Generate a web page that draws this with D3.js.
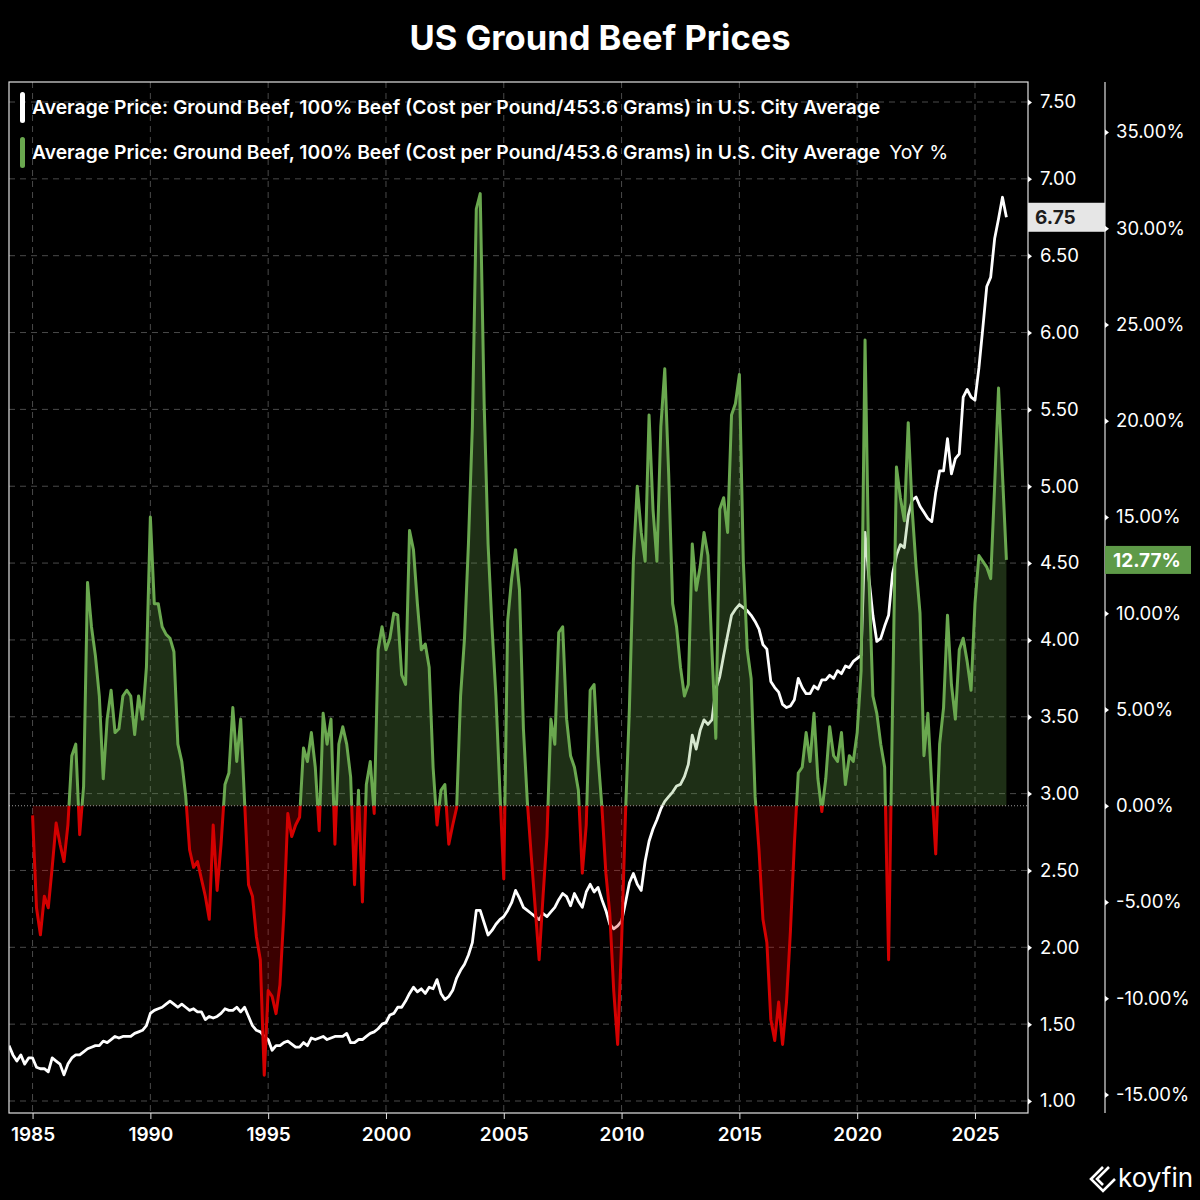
<!DOCTYPE html>
<html lang="en">
<head>
<meta charset="utf-8">
<script src="https://cdn.jsdelivr.net/npm/d3@7"></script>
<style>
  body { margin: 0; background: #000; }
  text { font-family: Inter, Roboto, sans-serif; }
</style>
</head>
<body>
<script>
var width = 1200, height = 1200;
var plotLeft = 9, plotRight = 1028, plotTop = 82, plotBottom = 1113;
var axis2 = 1105;

// tick labels
var yearTicks = [1985, 1990, 1995, 2000, 2005, 2010, 2015, 2020, 2025];
var priceTicks = [1.0, 1.5, 2.0, 2.5, 3.0, 3.5, 4.0, 4.5, 5.0, 5.5, 6.0, 6.5, 7.0, 7.5];
var yoyTicks = [-15, -10, -5, 0, 5, 10, 15, 20, 25, 30, 35];

// series, one value every two months
var priceStart = 1984, yoyStart = 1985, step = 2 / 12;

var price = [
  1.36, 1.30, 1.26, 1.30, 1.24, 1.28,  // 1984
  1.28, 1.22, 1.21, 1.21, 1.19, 1.28,
  1.26, 1.24, 1.17, 1.24, 1.28, 1.30,
  1.30, 1.32, 1.34, 1.35, 1.36, 1.36,
  1.39, 1.38, 1.40, 1.42, 1.41, 1.42,
  1.42, 1.42, 1.44, 1.45, 1.46, 1.49,
  1.57, 1.59, 1.60, 1.61, 1.63, 1.65,  // 1990
  1.63, 1.61, 1.63, 1.61, 1.59, 1.60,
  1.58, 1.58, 1.53, 1.55, 1.54, 1.55,
  1.57, 1.60, 1.59, 1.59, 1.61, 1.58,
  1.61, 1.55, 1.49, 1.46, 1.45, 1.42,
  1.40, 1.33, 1.36, 1.36, 1.38, 1.39,  // 1995
  1.37, 1.35, 1.35, 1.38, 1.36, 1.41,
  1.40, 1.41, 1.42, 1.40, 1.41, 1.42,
  1.42, 1.42, 1.44, 1.38, 1.38, 1.40,
  1.40, 1.42, 1.44, 1.45, 1.47, 1.50,
  1.51, 1.56, 1.57, 1.61, 1.61, 1.65,  // 2000
  1.70, 1.74, 1.71, 1.73, 1.70, 1.74,
  1.73, 1.79, 1.70, 1.66, 1.68, 1.72,
  1.80, 1.85, 1.89, 1.95, 2.03, 2.24,
  2.24, 2.16, 2.08, 2.11, 2.15, 2.18,
  2.20, 2.24, 2.29, 2.37, 2.32, 2.26,  // 2005
  2.24, 2.22, 2.20, 2.18, 2.22, 2.20,
  2.23, 2.26, 2.31, 2.35, 2.33, 2.27,
  2.35, 2.30, 2.26, 2.36, 2.41, 2.36,
  2.39, 2.31, 2.24, 2.15, 2.12, 2.14,
  2.17, 2.29, 2.42, 2.48, 2.41, 2.37,  // 2010
  2.56, 2.69, 2.77, 2.83, 2.90, 2.95,
  2.98, 3.01, 3.05, 3.06, 3.11, 3.19,
  3.38, 3.29, 3.41, 3.48, 3.45, 3.48,
  3.68, 3.76, 3.90, 4.03, 4.16, 4.20,
  4.23, 4.21, 4.19, 4.16, 4.12, 4.07,  // 2015
  3.97, 3.94, 3.73, 3.69, 3.66, 3.58,
  3.56, 3.57, 3.61, 3.75, 3.69, 3.65,
  3.65, 3.70, 3.68, 3.74, 3.74, 3.77,
  3.75, 3.80, 3.78, 3.83, 3.82, 3.86,
  3.88, 3.90, 4.70, 4.40, 4.16, 3.99,  // 2020
  4.01, 4.09, 4.16, 4.43, 4.55, 4.62,
  4.60, 4.81, 4.91, 4.93, 4.87, 4.83,
  4.79, 4.77, 4.96, 5.10, 5.10, 5.31,
  5.08, 5.18, 5.21, 5.58, 5.63, 5.58,
  5.56, 5.77, 6.03, 6.30, 6.36, 6.61,  // 2025
  6.74, 6.88, 6.75
];

var yoy = [
  -0.5, -5.3, -6.7, -4.7, -5.3, -3.2,  // 1985
  -0.9, -2.0, -2.9, -1.0, 2.6, 3.2,
  -1.5, 1.0, 11.6, 9.3, 7.8, 5.7,
  1.4, 4.5, 6.0, 3.8, 4.0, 5.7,
  6.0, 5.7, 3.7, 5.7, 4.5, 7.2,
  15.0, 10.5, 10.5, 9.3, 8.9, 8.7,  // 1990
  8.0, 3.2, 2.3, 0.5, -2.3, -3.2,
  -2.9, -3.8, -4.7, -5.9, -1.0, -4.4,
  -2.0, 1.1, 1.7, 5.1, 2.3, 4.5,
  0.2, -4.1, -4.7, -6.8, -8.0, -14.0,
  -9.6, -9.9, -10.8, -9.3, -5.6, -0.4,  // 1995
  -1.6, -1.0, -0.6, 3.0, 2.3, 3.8,
  2.0, -1.3, 4.8, 3.2, 4.5, -2.0,
  3.2, 4.1, 3.2, 1.5, -4.1, 0.8,
  -5.0, 1.1, 2.3, -0.4, 8.1, 9.3,
  8.1, 8.7, 10.0, 9.9, 6.8, 6.3,  // 2000
  14.3, 13.3, 10.5, 8.1, 8.4, 7.2,
  2.0, -1.0, 0.8, 1.1, -2.0, -1.0,
  -0.1, 5.7, 8.7, 13.6, 19.7, 31.0,
  31.8, 20.9, 13.6, 9.3, 5.7, 0.8,
  -3.8, 9.6, 11.8, 13.3, 11.2, 4.0,  // 2005
  0.2, -2.6, -5.3, -8.0, -4.7, -1.6,
  4.5, 3.2, 9.0, 9.3, 4.5, 2.6,
  2.0, 0.8, -3.5, -1.0, 6.0, 6.3,
  2.6, -0.1, -3.5, -5.6, -9.6, -12.4,
  -7.1, -0.4, 5.1, 12.7, 16.6, 14.2,  // 2010
  12.7, 20.3, 15.4, 12.7, 19.7, 22.7,
  17.2, 10.5, 9.3, 7.2, 5.7, 6.3,
  13.6, 11.2, 12.4, 14.2, 13.0, 8.1,
  3.5, 15.4, 16.0, 14.2, 20.3, 20.9,
  22.4, 12.7, 8.1, 6.6, 0.5, -2.3,  // 2015
  -5.9, -7.1, -11.1, -12.2, -10.2, -12.4,
  -10.2, -6.5, -2.0, 1.7, 2.0, 3.8,
  2.3, 4.8, 1.4, -0.3, 1.4, 4.1,
  2.6, 2.3, 3.8, 1.1, 2.6, 2.3,
  3.8, 7.0, 24.2, 11.8, 5.7, 4.8,  // 2020
  3.2, 2.0, -8.0, 5.1, 17.6, 16.0,
  14.8, 19.9, 15.4, 12.4, 10.0, 2.6,
  4.8, 1.0, -2.5, 3.2, 5.1, 9.9,
  6.3, 4.5, 8.1, 8.7, 7.5, 6.0,
  10.5, 13.0, 12.7, 12.4, 11.8, 16.6,  // 2025
  21.7, 17.2, 12.77
];

var priceName = "Average Price: Ground Beef, 100% Beef (Cost per Pound/453.6 Grams) in U.S. City Average";

var priceData = price.map(function(v, i) { return { t: priceStart + i * step, v: v }; });
var yoyData = yoy.map(function(v, i) { return { t: yoyStart + i * step, v: v }; });
var lastPrice = price[price.length - 1];
var lastYoy = yoy[yoy.length - 1];

var green = "#6aa84f", red = "#d40000";
var fix2 = function(d) { return d.toFixed(2); };  // plain hyphen for negatives

var svg = d3.select("body").append("svg")
    .attr("width", width)
    .attr("height", height);

svg.append("rect").attr("width", width).attr("height", height).attr("fill", "#000");

var x = d3.scaleLinear().domain([1984, 2027.25]).range([plotLeft, plotRight]);
var yPrice = d3.scaleLinear().domain([1, 7.5]).range([1101, 102]);
var yYoy = d3.scaleLinear().domain([-15, 35]).range([1094.5, 132]);
var y0 = yYoy(0);

// title
svg.append("text")
    .attr("x", width / 2).attr("y", 50)
    .attr("text-anchor", "middle")
    .attr("fill", "#fff")
    .attr("font-size", 34.5)
    .attr("font-weight", 700)
    .text("US Ground Beef Prices");

// clip paths
var defs = svg.append("defs");
defs.append("clipPath").attr("id", "plot")
  .append("rect").attr("x", plotLeft).attr("y", plotTop).attr("width", plotRight - plotLeft).attr("height", plotBottom - plotTop);
defs.append("clipPath").attr("id", "above")
  .append("rect").attr("x", plotLeft).attr("y", plotTop).attr("width", plotRight - plotLeft).attr("height", y0 - plotTop);
defs.append("clipPath").attr("id", "below")
  .append("rect").attr("x", plotLeft).attr("y", y0).attr("width", plotRight - plotLeft).attr("height", plotBottom - y0);

// grid
var grid = svg.append("g").attr("stroke", "#4a4a4a").attr("stroke-width", 1).attr("stroke-dasharray", "6,5");
grid.selectAll(".gx").data(yearTicks).enter().append("line")
    .attr("x1", function(d) { return x(d); }).attr("x2", function(d) { return x(d); })
    .attr("y1", plotTop).attr("y2", plotBottom);
grid.selectAll(".gy").data(priceTicks).enter().append("line")
    .attr("x1", plotLeft).attr("x2", plotRight)
    .attr("y1", function(d) { return yPrice(d); }).attr("y2", function(d) { return yPrice(d); });

var plot = svg.append("g").attr("clip-path", "url(#plot)");

// price line
plot.append("path")
    .datum(priceData)
    .attr("fill", "none")
    .attr("stroke", "#fff")
    .attr("stroke-width", 2.8)
    .attr("stroke-linejoin", "round")
    .attr("d", d3.line().x(function(d) { return x(d.t); }).y(function(d) { return yPrice(d.v); }));

// yoy areas + lines, split at zero
var area = d3.area().x(function(d) { return x(d.t); }).y0(y0).y1(function(d) { return yYoy(d.v); });
var line = d3.line().x(function(d) { return x(d.t); }).y(function(d) { return yYoy(d.v); });

plot.append("path").datum(yoyData).attr("clip-path", "url(#above)")
    .attr("fill", green).attr("fill-opacity", 0.28).attr("d", area);
plot.append("path").datum(yoyData).attr("clip-path", "url(#below)")
    .attr("fill", red).attr("fill-opacity", 0.28).attr("d", area);
plot.append("path").datum(yoyData).attr("clip-path", "url(#above)")
    .attr("fill", "none").attr("stroke", green).attr("stroke-width", 3).attr("stroke-linejoin", "round").attr("d", line);
plot.append("path").datum(yoyData).attr("clip-path", "url(#below)")
    .attr("fill", "none").attr("stroke", red).attr("stroke-width", 3).attr("stroke-linejoin", "round").attr("d", line);

// zero line
svg.append("line")
    .attr("x1", plotLeft).attr("x2", plotRight).attr("y1", y0).attr("y2", y0)
    .attr("stroke", "#999").attr("stroke-width", 1).attr("stroke-dasharray", "1,2");

// frame
svg.append("rect")
    .attr("x", plotLeft).attr("y", plotTop).attr("width", plotRight - plotLeft).attr("height", plotBottom - plotTop)
    .attr("fill", "none").attr("stroke", "#e0e0e0").attr("stroke-width", 1.2);
svg.append("line")
    .attr("x1", axis2).attr("x2", axis2).attr("y1", plotTop).attr("y2", plotBottom)
    .attr("stroke", "#e0e0e0").attr("stroke-width", 1.2);

// x axis
var gx = svg.append("g").attr("transform", "translate(0," + plotBottom + ")")
    .call(d3.axisBottom(x).tickValues(yearTicks).tickFormat(d3.format("d")).tickSize(6).tickPadding(9));
gx.select(".domain").remove();
gx.selectAll("line").attr("stroke", "#e0e0e0");
gx.selectAll("text").attr("fill", "#fff").attr("font-size", 19).attr("font-weight", 600)
    .attr("font-family", "Inter, sans-serif");

// price axis
var gp = svg.append("g").attr("transform", "translate(" + plotRight + ",0)")
    .call(d3.axisRight(yPrice).tickValues(priceTicks).tickFormat(fix2).tickSize(0).tickPadding(12));
gp.select(".domain").remove();
gp.selectAll("text").attr("fill", "#fff").attr("font-size", 18.5).attr("font-family", "Inter, sans-serif");
gp.selectAll(".tick").append("path").attr("d", "M0,-3L4,0L0,3Z").attr("fill", "#fff");

// yoy axis
var gy = svg.append("g").attr("transform", "translate(" + axis2 + ",0)")
    .call(d3.axisRight(yYoy).tickValues(yoyTicks).tickFormat(function(d) { return fix2(d) + "%"; }).tickSize(0).tickPadding(11));
gy.select(".domain").remove();
gy.selectAll("text").attr("fill", "#fff").attr("font-size", 18.5).attr("font-family", "Inter, sans-serif");
gy.selectAll(".tick").append("path").attr("d", "M0,-3L4,0L0,3Z").attr("fill", "#fff");

// last value badges
var bp = yPrice(lastPrice);
svg.append("rect").attr("x", plotRight).attr("y", bp - 14.5).attr("width", axis2 - plotRight).attr("height", 29).attr("fill", "#e6e6e6");
svg.append("text").attr("x", plotRight + 7).attr("y", bp).attr("dy", "0.35em")
    .attr("fill", "#1c1c1c").attr("font-size", 19).attr("font-weight", 700).text(fix2(lastPrice));

var by = yYoy(lastYoy);
svg.append("rect").attr("x", axis2).attr("y", by - 14).attr("width", 86).attr("height", 28).attr("fill", "#5e9a48");
svg.append("text").attr("x", axis2 + 8).attr("y", by).attr("dy", "0.35em")
    .attr("fill", "#fff").attr("font-size", 19).attr("font-weight", 700).text(fix2(lastYoy) + "%");

// legend
svg.append("rect").attr("x", 20).attr("y", 92).attr("width", 5).attr("height", 31).attr("rx", 2.5).attr("fill", "#fff");
svg.append("text").attr("x", 32).attr("y", 114).attr("fill", "#fff").attr("font-size", 19.3).attr("font-weight", 600)
    .text(priceName);
svg.append("rect").attr("x", 20).attr("y", 137).attr("width", 5).attr("height", 31).attr("rx", 2.5).attr("fill", green);
var lg = svg.append("text").attr("x", 32).attr("y", 159).attr("fill", "#fff").attr("font-size", 19.3);
lg.append("tspan").attr("font-weight", 600).text(priceName);
lg.append("tspan").attr("dx", 9).attr("font-weight", 400).text("YoY %");

// koyfin mark
var logo = svg.append("g").attr("fill", "none").attr("stroke", "#fff").attr("stroke-width", 2.6).attr("stroke-linejoin", "miter");
logo.append("path").attr("d", "M1103,1167 L1091,1179 L1103,1191 L1115,1179");
logo.append("path").attr("d", "M1109,1167 L1097,1179 L1103,1185");
svg.append("text").attr("x", 1118).attr("y", 1187).attr("fill", "#fff").attr("font-size", 26).attr("font-weight", 400)
    .text("koyfin");
</script>
</body>
</html>
